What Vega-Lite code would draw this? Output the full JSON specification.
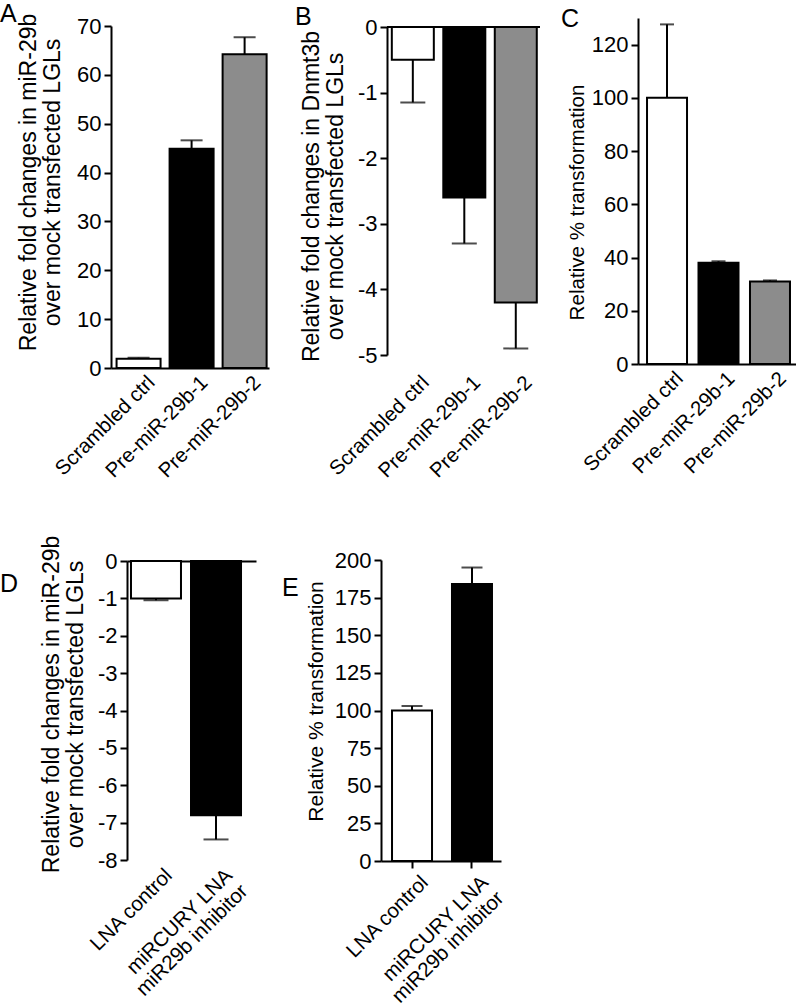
{
  "$schema": "https://vega.github.io/schema/vega-lite/v6.json",
  "padding": {"left": 0, "top": 2, "right": 0, "bottom": 0},
  "background": "white",
  "columns": 3,
  "bounds": "flush",
  "align": "each",
  "spacing": {"row": 192, "column": 98},
  "config": {
    "font": "Liberation Sans",
    "view": {"stroke": null},
    "axis": {"domainColor": "black", "domainWidth": 2, "tickColor": "black", "tickWidth": 2, "tickSize": 7, "labelColor": "black", "labelFontSize": 22, "labelPadding": 3, "titleFontSize": 23, "titleFontWeight": "normal", "titleColor": "black", "titleLineHeight": 24, "grid": false},
    "axisX": {"labelAngle": -45, "ticks": false, "labelFontSize": 20.5, "title": null, "labelPadding": 4},
    "title": {"fontSize": 25, "fontWeight": "normal", "anchor": "start", "frame": "group", "color": "black", "offset": -4}
  },
  "datasets": {
    "A": [
      {"g": "Scrambled ctrl", "v": 1.9, "e": 2.1},
      {"g": "Pre-miR-29b-1", "v": 44.9, "e": 46.6},
      {"g": "Pre-miR-29b-2", "v": 64.2, "e": 67.7}
    ],
    "B": [
      {"g": "Scrambled ctrl", "v": -0.5, "e": -1.15},
      {"g": "Pre-miR-29b-1", "v": -2.6, "e": -3.3},
      {"g": "Pre-miR-29b-2", "v": -4.2, "e": -4.9}
    ],
    "C": [
      {"g": "Scrambled ctrl", "v": 100, "e": 127.6},
      {"g": "Pre-miR-29b-1", "v": 38, "e": 38.6},
      {"g": "Pre-miR-29b-2", "v": 31, "e": 31.4}
    ],
    "D": [
      {"g": "LNA control", "v": -1.0, "e": -1.05},
      {"g": "miRCURY LNA\nmiR29b inhibitor", "v": -6.8, "e": -7.45}
    ],
    "E": [
      {"g": "LNA control", "v": 100, "e": 103},
      {"g": "miRCURY LNA\nmiR29b inhibitor", "v": 184, "e": 195}
    ]
  },
  "concat": [
    {
      "title": {"text": "A", "dx": -111, "dy": 10},
      "width": 178, "height": 350,
      "data": {"name": "A"},
      "encoding": {
        "x": {"field": "g", "type": "nominal", "sort": null, "scale": {"range": [0, 158], "paddingInner": 0.17, "paddingOuter": 0.075, "align": 0.7}, "axis": {"labelOffset": 6}}
      },
      "layer": [
        {"mark": {"type": "bar", "stroke": "black", "strokeWidth": 2},
         "encoding": {
           "y": {"field": "v", "type": "quantitative", "scale": {"domain": [0, 70], "range": [350, 8], "nice": false, "zero": false}, "axis": {"values": [0, 10, 20, 30, 40, 50, 60, 70], "tickCount": 10, "labelOverlap": false, "labelExpr": "'' + datum.value", "title": ["Relative fold changes in miR-29b", "over  mock transfected LGLs"], "titleY": 164, "titlePadding": 12}},
           "color": {"field": "g", "type": "nominal", "legend": null, "scale": {"domain": ["Scrambled ctrl", "Pre-miR-29b-1", "Pre-miR-29b-2", "LNA control", "miRCURY LNA\nmiR29b inhibitor"], "range": ["#ffffff", "#000000", "#8c8c8c", "#ffffff", "#000000"]}}
         }},
        {"mark": {"type": "rule", "color": "black", "strokeWidth": 2},
         "encoding": {"y": {"field": "v", "type": "quantitative"}, "y2": {"field": "e"}}},
        {"mark": {"type": "tick", "color": "black", "thickness": 2, "size": 22},
         "encoding": {"y": {"field": "e", "type": "quantitative"}}}
      ]
    },
    {
      "title": {"text": "B", "dx": -92, "dy": 10},
      "width": 153, "height": 350,
      "data": {"name": "B"},
      "encoding": {
        "x": {"field": "g", "type": "nominal", "sort": null, "scale": {"paddingInner": 0.184, "paddingOuter": 0.078, "align": 0.6}, "axis": {"labelOffset": 6, "domain": false}}
      },
      "layer": [
        {"mark": {"type": "bar", "stroke": "black", "strokeWidth": 2},
         "encoding": {
           "y": {"field": "v", "type": "quantitative", "scale": {"domain": [-5, 0], "range": [337, 9], "nice": false, "zero": false}, "axis": {"values": [-5, -4, -3, -2, -1, 0], "tickCount": 10, "labelOverlap": false, "labelExpr": "'' + datum.value", "title": ["Relative fold changes in Dnmt3b", "over  mock transfected LGLs"], "titleY": 178, "titlePadding": 10}},
           "color": {"field": "g", "type": "nominal", "legend": null, "scale": {"domain": ["Scrambled ctrl", "Pre-miR-29b-1", "Pre-miR-29b-2", "LNA control", "miRCURY LNA\nmiR29b inhibitor"], "range": ["#ffffff", "#000000", "#8c8c8c", "#ffffff", "#000000"]}}
         }},
        {"mark": {"type": "rule", "color": "black", "strokeWidth": 2},
         "encoding": {"y": {"field": "v", "type": "quantitative"}, "y2": {"field": "e"}}},
        {"mark": {"type": "tick", "color": "black", "thickness": 2, "size": 25},
         "encoding": {"y": {"field": "e", "type": "quantitative"}}},
        {"mark": {"type": "rule", "color": "black", "strokeWidth": 2},
         "encoding": {"y": {"datum": 0, "type": "quantitative"}, "x": null}}
      ]
    },
    {
      "title": {"text": "C", "dx": -77, "dy": 10},
      "width": 158, "height": 346,
      "data": {"name": "C"},
      "encoding": {
        "x": {"field": "g", "type": "nominal", "sort": null, "scale": {"paddingInner": 0.223, "paddingOuter": 0.146, "align": 0.6}, "axis": {"labelOffset": 6}}
      },
      "layer": [
        {"mark": {"type": "bar", "stroke": "black", "strokeWidth": 2},
         "encoding": {
           "y": {"field": "v", "type": "quantitative", "scale": {"domain": [0, 130], "nice": false}, "axis": {"values": [0, 20, 40, 60, 80, 100, 120], "tickCount": 10, "labelOverlap": false, "labelExpr": "'' + datum.value", "title": "Relative % transformation", "titleFontSize": 20.6, "titleY": 184, "titlePadding": 4}},
           "color": {"field": "g", "type": "nominal", "legend": null, "scale": {"domain": ["Scrambled ctrl", "Pre-miR-29b-1", "Pre-miR-29b-2", "LNA control", "miRCURY LNA\nmiR29b inhibitor"], "range": ["#ffffff", "#000000", "#8c8c8c", "#ffffff", "#000000"]}}
         }},
        {"mark": {"type": "rule", "color": "black", "strokeWidth": 2},
         "encoding": {"y": {"field": "v", "type": "quantitative"}, "y2": {"field": "e"}}},
        {"mark": {"type": "tick", "color": "black", "thickness": 2, "size": 14},
         "encoding": {"y": {"field": "e", "type": "quantitative"}}}
      ]
    },
    {
      "title": {"text": "D", "dx": -111, "dy": 58},
      "width": 178, "height": 301,
      "data": {"name": "D"},
      "resolve": {"axis": {"x": "independent"}},
      "layer": [
        {"mark": {"type": "bar", "stroke": "black", "strokeWidth": 2},
         "encoding": {
           "x": {"field": "g", "type": "nominal", "sort": null, "scale": {"range": [16, 145], "paddingInner": 0.167, "paddingOuter": 0.158, "align": 0.21}, "axis": {"orient": "top", "labels": false, "ticks": false, "offset": -1}},
           "y": {"field": "v", "type": "quantitative", "scale": {"domain": [-8, 0], "range": [300, 1], "nice": false, "zero": false}, "axis": {"values": [-8, -7, -6, -5, -4, -3, -2, -1, 0], "tickCount": 12, "labelOverlap": false, "labelExpr": "'' + datum.value", "offset": -16, "title": ["Relative fold changes in miR-29b", "over  mock transfected LGLs"], "titleY": 144, "titlePadding": 10}},
           "color": {"field": "g", "type": "nominal", "legend": null, "scale": {"domain": ["Scrambled ctrl", "Pre-miR-29b-1", "Pre-miR-29b-2", "LNA control", "miRCURY LNA\nmiR29b inhibitor"], "range": ["#ffffff", "#000000", "#8c8c8c", "#ffffff", "#000000"]}}
         }},
        {"mark": {"type": "rule", "color": "black", "strokeWidth": 2},
         "encoding": {"x": {"field": "g", "type": "nominal", "sort": null, "axis": null}, "y": {"field": "v", "type": "quantitative"}, "y2": {"field": "e"}}},
        {"mark": {"type": "tick", "color": "black", "thickness": 2, "size": 25},
         "encoding": {"x": {"field": "g", "type": "nominal", "sort": null, "axis": {"domain": false, "labelOffset": 6, "labelExpr": "split(datum.label, '\\n')", "labelLineHeight": 22}}, "y": {"field": "e", "type": "quantitative"}}}
      ]
    },
    {
      "title": {"text": "E", "dx": -105, "dy": 48},
      "width": 120, "height": 301,
      "data": {"name": "E"},
      "encoding": {
        "x": {"field": "g", "type": "nominal", "sort": null, "scale": {"range": [-6, 114], "paddingInner": 0.333, "paddingOuter": 0.167, "align": 0.55}, "axis": {"labelOffset": 6, "ticks": true, "labelExpr": "split(datum.label, '\\n')", "labelLineHeight": 22}}
      },
      "layer": [
        {"mark": {"type": "bar", "stroke": "black", "strokeWidth": 2},
         "encoding": {
           "y": {"field": "v", "type": "quantitative", "scale": {"domain": [0, 200], "nice": false}, "axis": {"values": [0, 25, 50, 75, 100, 125, 150, 175, 200], "tickCount": 12, "labelOverlap": false, "labelExpr": "'' + datum.value", "offset": 6, "title": "Relative % transformation", "titleFontSize": 21, "titleY": 141, "titlePadding": 8}},
           "color": {"field": "g", "type": "nominal", "legend": null, "scale": {"domain": ["Scrambled ctrl", "Pre-miR-29b-1", "Pre-miR-29b-2", "LNA control", "miRCURY LNA\nmiR29b inhibitor"], "range": ["#ffffff", "#000000", "#8c8c8c", "#ffffff", "#000000"]}}
         }},
        {"mark": {"type": "rule", "color": "black", "strokeWidth": 2},
         "encoding": {"y": {"field": "v", "type": "quantitative"}, "y2": {"field": "e"}}},
        {"mark": {"type": "tick", "color": "black", "thickness": 2, "size": 21},
         "encoding": {"y": {"field": "e", "type": "quantitative"}}}
      ]
    }
  ]
}
